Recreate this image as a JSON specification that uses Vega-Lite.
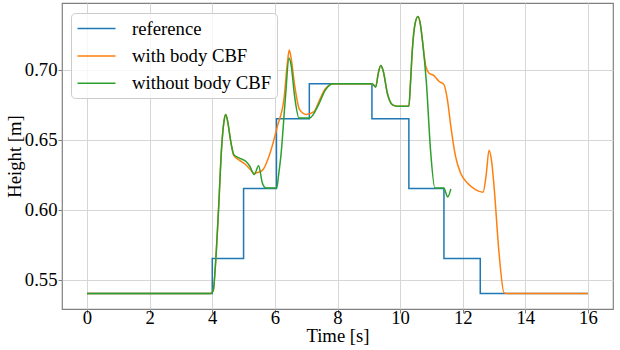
{
  "$schema": "https://vega.github.io/schema/vega-lite/v6.json",
  "autosize": "none",
  "width": 551,
  "height": 306,
  "padding": {"left": 62, "top": 3, "right": 7, "bottom": 41},
  "background": "white",
  "config": {
    "font": "Liberation Serif",
    "view": {"stroke": "#808080", "strokeWidth": 1.2},
    "axis": {
      "domain": false,
      "grid": true,
      "gridColor": "#d6d6d6",
      "gridWidth": 1,
      "tickColor": "#808080",
      "tickSize": 4,
      "labelFont": "Liberation Serif",
      "labelFontSize": 18.7,
      "labelColor": "#000000",
      "titleFont": "Liberation Serif",
      "titleFontSize": 18.7,
      "titleFontWeight": "normal",
      "titleColor": "#000000"
    }
  },
  "datasets": {
    "ref": [
      {"t": 0, "h": 0.54, "s": "reference"},
      {"t": 4.0, "h": 0.565, "s": "reference"},
      {"t": 5.0, "h": 0.615, "s": "reference"},
      {"t": 6.05, "h": 0.665, "s": "reference"},
      {"t": 7.1, "h": 0.69, "s": "reference"},
      {"t": 9.1, "h": 0.665, "s": "reference"},
      {"t": 10.28, "h": 0.615, "s": "reference"},
      {"t": 11.4, "h": 0.565, "s": "reference"},
      {"t": 12.56, "h": 0.54, "s": "reference"},
      {"t": 16.0, "h": 0.54, "s": "reference"}
    ],
    "withcbf": [
      {"t": 0, "h": 0.54, "s": "with body CBF"},
      {"t": 3.95, "h": 0.54, "s": "with body CBF"},
      {"t": 4.03, "h": 0.542, "s": "with body CBF"},
      {"t": 4.1, "h": 0.56, "s": "with body CBF"},
      {"t": 4.2, "h": 0.6, "s": "with body CBF"},
      {"t": 4.3, "h": 0.645, "s": "with body CBF"},
      {"t": 4.38, "h": 0.664, "s": "with body CBF"},
      {"t": 4.43, "h": 0.668, "s": "with body CBF"},
      {"t": 4.5, "h": 0.662, "s": "with body CBF"},
      {"t": 4.58, "h": 0.65, "s": "with body CBF"},
      {"t": 4.69, "h": 0.6385, "s": "with body CBF"},
      {"t": 4.85, "h": 0.6355, "s": "with body CBF"},
      {"t": 5.07, "h": 0.632, "s": "with body CBF"},
      {"t": 5.2, "h": 0.629, "s": "with body CBF"},
      {"t": 5.34, "h": 0.626, "s": "with body CBF"},
      {"t": 5.45, "h": 0.6265, "s": "with body CBF"},
      {"t": 5.6, "h": 0.628, "s": "with body CBF"},
      {"t": 5.81, "h": 0.638, "s": "with body CBF"},
      {"t": 6.08, "h": 0.6595, "s": "with body CBF"},
      {"t": 6.3, "h": 0.681, "s": "with body CBF"},
      {"t": 6.4, "h": 0.705, "s": "with body CBF"},
      {"t": 6.46, "h": 0.714, "s": "with body CBF"},
      {"t": 6.52, "h": 0.708, "s": "with body CBF"},
      {"t": 6.63, "h": 0.689, "s": "with body CBF"},
      {"t": 6.79, "h": 0.6714, "s": "with body CBF"},
      {"t": 7.0, "h": 0.668, "s": "with body CBF"},
      {"t": 7.25, "h": 0.67, "s": "with body CBF"},
      {"t": 7.41, "h": 0.6774, "s": "with body CBF"},
      {"t": 7.6, "h": 0.686, "s": "with body CBF"},
      {"t": 7.78, "h": 0.6895, "s": "with body CBF"},
      {"t": 7.9, "h": 0.69, "s": "with body CBF"},
      {"t": 9.1, "h": 0.69, "s": "with body CBF"},
      {"t": 9.22, "h": 0.6876, "s": "with body CBF"},
      {"t": 9.3, "h": 0.697, "s": "with body CBF"},
      {"t": 9.38, "h": 0.7029, "s": "with body CBF"},
      {"t": 9.46, "h": 0.699, "s": "with body CBF"},
      {"t": 9.59, "h": 0.6833, "s": "with body CBF"},
      {"t": 9.75, "h": 0.675, "s": "with body CBF"},
      {"t": 9.91, "h": 0.6738, "s": "with body CBF"},
      {"t": 10.28, "h": 0.6738, "s": "with body CBF"},
      {"t": 10.33, "h": 0.69, "s": "with body CBF"},
      {"t": 10.39, "h": 0.714, "s": "with body CBF"},
      {"t": 10.48, "h": 0.733, "s": "with body CBF"},
      {"t": 10.57, "h": 0.738, "s": "with body CBF"},
      {"t": 10.65, "h": 0.732, "s": "with body CBF"},
      {"t": 10.71, "h": 0.7214, "s": "with body CBF"},
      {"t": 10.82, "h": 0.7024, "s": "with body CBF"},
      {"t": 10.92, "h": 0.6976, "s": "with body CBF"},
      {"t": 11.08, "h": 0.6957, "s": "with body CBF"},
      {"t": 11.24, "h": 0.6917, "s": "with body CBF"},
      {"t": 11.4, "h": 0.6893, "s": "with body CBF"},
      {"t": 11.51, "h": 0.6786, "s": "with body CBF"},
      {"t": 11.62, "h": 0.6595, "s": "with body CBF"},
      {"t": 11.77, "h": 0.638, "s": "with body CBF"},
      {"t": 11.93, "h": 0.6262, "s": "with body CBF"},
      {"t": 12.15, "h": 0.619, "s": "with body CBF"},
      {"t": 12.41, "h": 0.6143, "s": "with body CBF"},
      {"t": 12.65, "h": 0.6124, "s": "with body CBF"},
      {"t": 12.75, "h": 0.625, "s": "with body CBF"},
      {"t": 12.84, "h": 0.6424, "s": "with body CBF"},
      {"t": 12.92, "h": 0.635, "s": "with body CBF"},
      {"t": 13.0, "h": 0.6167, "s": "with body CBF"},
      {"t": 13.16, "h": 0.569, "s": "with body CBF"},
      {"t": 13.32, "h": 0.5405, "s": "with body CBF"},
      {"t": 13.45, "h": 0.54, "s": "with body CBF"},
      {"t": 16.0, "h": 0.54, "s": "with body CBF"}
    ],
    "without": [
      {"t": 0, "h": 0.54, "s": "without body CBF"},
      {"t": 3.95, "h": 0.54, "s": "without body CBF"},
      {"t": 4.03, "h": 0.542, "s": "without body CBF"},
      {"t": 4.1, "h": 0.56, "s": "without body CBF"},
      {"t": 4.2, "h": 0.6, "s": "without body CBF"},
      {"t": 4.3, "h": 0.645, "s": "without body CBF"},
      {"t": 4.38, "h": 0.664, "s": "without body CBF"},
      {"t": 4.43, "h": 0.668, "s": "without body CBF"},
      {"t": 4.5, "h": 0.662, "s": "without body CBF"},
      {"t": 4.58, "h": 0.65, "s": "without body CBF"},
      {"t": 4.69, "h": 0.6393, "s": "without body CBF"},
      {"t": 4.85, "h": 0.637, "s": "without body CBF"},
      {"t": 5.07, "h": 0.6345, "s": "without body CBF"},
      {"t": 5.2, "h": 0.631, "s": "without body CBF"},
      {"t": 5.34, "h": 0.625, "s": "without body CBF"},
      {"t": 5.48, "h": 0.6314, "s": "without body CBF"},
      {"t": 5.6, "h": 0.619, "s": "without body CBF"},
      {"t": 5.71, "h": 0.6155, "s": "without body CBF"},
      {"t": 6.06, "h": 0.6155, "s": "without body CBF"},
      {"t": 6.12, "h": 0.625, "s": "without body CBF"},
      {"t": 6.19, "h": 0.638, "s": "without body CBF"},
      {"t": 6.34, "h": 0.681, "s": "without body CBF"},
      {"t": 6.45, "h": 0.7083, "s": "without body CBF"},
      {"t": 6.52, "h": 0.703, "s": "without body CBF"},
      {"t": 6.63, "h": 0.681, "s": "without body CBF"},
      {"t": 6.77, "h": 0.6655, "s": "without body CBF"},
      {"t": 7.11, "h": 0.6655, "s": "without body CBF"},
      {"t": 7.41, "h": 0.6757, "s": "without body CBF"},
      {"t": 7.6, "h": 0.685, "s": "without body CBF"},
      {"t": 7.85, "h": 0.69, "s": "without body CBF"},
      {"t": 9.1, "h": 0.69, "s": "without body CBF"},
      {"t": 9.22, "h": 0.6876, "s": "without body CBF"},
      {"t": 9.3, "h": 0.697, "s": "without body CBF"},
      {"t": 9.38, "h": 0.7029, "s": "without body CBF"},
      {"t": 9.46, "h": 0.699, "s": "without body CBF"},
      {"t": 9.59, "h": 0.6833, "s": "without body CBF"},
      {"t": 9.75, "h": 0.675, "s": "without body CBF"},
      {"t": 9.91, "h": 0.6738, "s": "without body CBF"},
      {"t": 10.28, "h": 0.6738, "s": "without body CBF"},
      {"t": 10.33, "h": 0.69, "s": "without body CBF"},
      {"t": 10.39, "h": 0.714, "s": "without body CBF"},
      {"t": 10.48, "h": 0.733, "s": "without body CBF"},
      {"t": 10.57, "h": 0.738, "s": "without body CBF"},
      {"t": 10.65, "h": 0.732, "s": "without body CBF"},
      {"t": 10.71, "h": 0.7214, "s": "without body CBF"},
      {"t": 10.84, "h": 0.6905, "s": "without body CBF"},
      {"t": 10.97, "h": 0.643, "s": "without body CBF"},
      {"t": 11.11, "h": 0.6155, "s": "without body CBF"},
      {"t": 11.4, "h": 0.6155, "s": "without body CBF"},
      {"t": 11.46, "h": 0.612, "s": "without body CBF"},
      {"t": 11.52, "h": 0.609, "s": "without body CBF"},
      {"t": 11.62, "h": 0.6148, "s": "without body CBF"}
    ]
  },
  "encoding": {
    "x": {
      "field": "t",
      "type": "quantitative",
      "scale": {"domain": [-0.8, 16.8], "nice": false, "zero": false},
      "axis": {"values": [0, 2, 4, 6, 8, 10, 12, 14, 16], "title": "Time [s]", "labelPadding": -5, "titlePadding": 0}
    },
    "y": {
      "field": "h",
      "type": "quantitative",
      "scale": {"domain": [0.529, 0.7476], "nice": false, "zero": false},
      "axis": {"values": [0.55, 0.6, 0.65, 0.7], "format": ".2f", "title": "Height [m]", "labelPadding": 1, "titlePadding": 0}
    },
    "color": {
      "field": "s",
      "type": "nominal",
      "scale": {
        "domain": ["reference", "with body CBF", "without body CBF"],
        "range": ["#1f77b4", "#ff7f0e", "#2ca02c"]
      },
      "legend": {
        "title": null,
        "orient": "none",
        "legendX": 9,
        "legendY": 10,
        "direction": "vertical",
        "fillColor": "rgba(255,255,255,0.8)",
        "strokeColor": "#cccccc",
        "cornerRadius": 4,
        "padding": 5,
        "symbolType": "M-2,0H2",
        "symbolSize": 361,
        "symbolOffset": 10,
        "symbolStrokeWidth": 1.5,
        "symbolOpacity": 1,
        "labelFont": "Liberation Serif",
        "labelFontSize": 18.7,
        "labelColor": "#000000",
        "labelOffset": 25,
        "rowPadding": 6.4,
        "labelLimit": 300
      }
    }
  },
  "layer": [
    {
      "data": {"name": "ref"},
      "mark": {"type": "line", "interpolate": "step-after", "strokeWidth": 1.5, "clip": true}
    },
    {
      "data": {"name": "withcbf"},
      "mark": {"type": "line", "interpolate": "monotone", "strokeWidth": 1.5, "clip": true}
    },
    {
      "data": {"name": "without"},
      "mark": {"type": "line", "interpolate": "monotone", "strokeWidth": 1.5, "clip": true}
    }
  ]
}
